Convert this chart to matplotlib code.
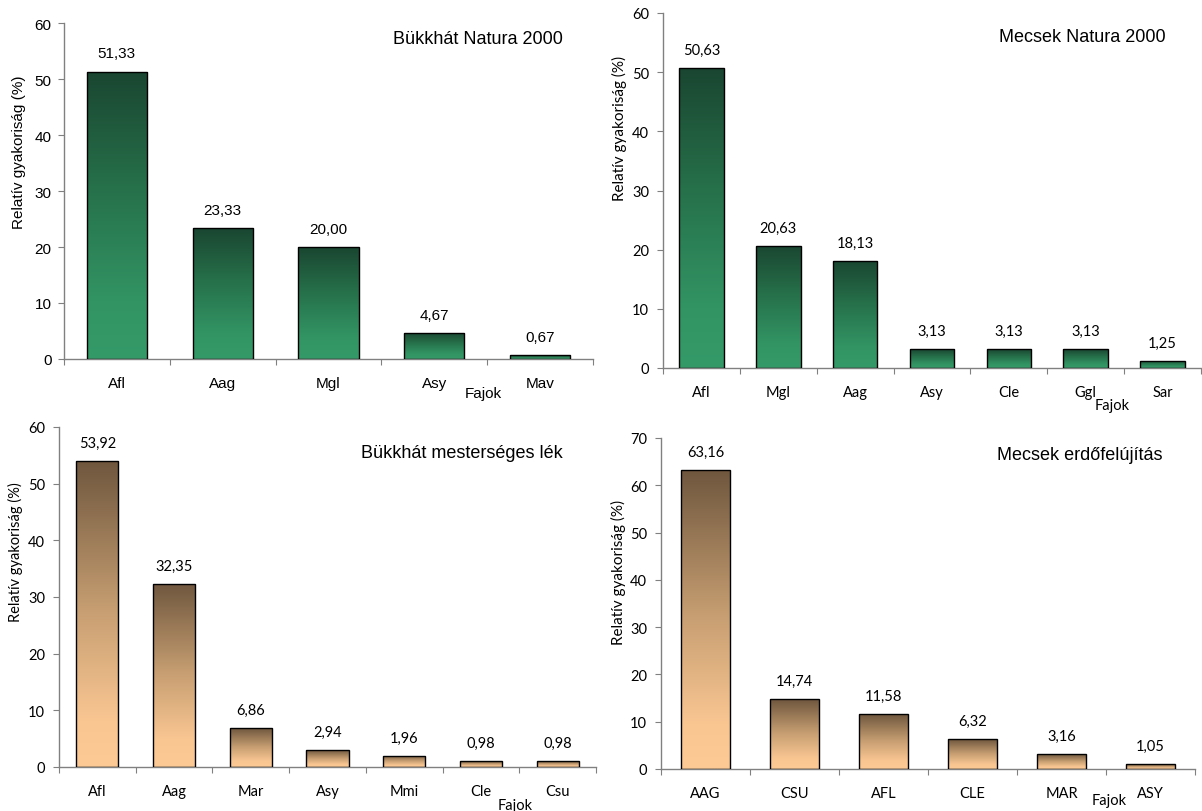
import numpy as np
import matplotlib
matplotlib.use("Agg")
import matplotlib.pyplot as plt
from matplotlib.colors import LinearSegmentedColormap

# Species codes and relative frequencies (%) for each site
bn_species = ["Afl", "Aag", "Mgl", "Asy", "Mav"]
bn_values = [51.33, 23.33, 20.00, 4.67, 0.67]

mn_species = ["Afl", "Mgl", "Aag", "Asy", "Cle", "Ggl", "Sar"]
mn_values = [50.63, 20.63, 18.13, 3.13, 3.13, 3.13, 1.25]

bl_species = ["Afl", "Aag", "Mar", "Asy", "Mmi", "Cle", "Csu"]
bl_values = [53.92, 32.35, 6.86, 2.94, 1.96, 0.98, 0.98]

me_species = ["AAG", "CSU", "AFL", "CLE", "MAR", "ASY"]
me_values = [63.16, 14.74, 11.58, 6.32, 3.16, 1.05]

W, H = 1202, 812
fig = plt.figure(figsize=(W / 100, H / 100), dpi=100)
fig.patch.set_facecolor("white")

green = LinearSegmentedColormap.from_list(
    "green", [(0.0, "#349a68"), (0.2, "#329463"), (0.6, "#26704a"), (1.0, "#1a4631")])
brown = LinearSegmentedColormap.from_list(
    "brown", [(0.0, "#fdca96"), (0.15, "#f9c692"), (0.5, "#c9a073"), (1.0, "#6f573e")])

ARIAL = "Liberation Sans"
CALIBRI = "Lato"


def axes_px(left, top, right, bottom):
    return fig.add_axes([left / W, 1 - bottom / H, (right - left) / W, (bottom - top) / H])


def panel(box, cats, vals, ymax, cmap, title, title_xy, ylab_xy, fajok_xy,
          font, tick_fs, val_fs, cat_fs, ylab_fs, title_fs, bar_w, cat_pad, ytick_pad):
    ax = axes_px(*box)
    n = len(cats)
    x = np.arange(n) + 0.5
    grad = np.linspace(0, 1, 256).reshape(-1, 1)
    bars = ax.bar(x, vals, width=bar_w, facecolor="none", edgecolor="black",
                  linewidth=1.0, zorder=3)
    for b, v in zip(bars, vals):
        x0 = b.get_x()
        im = ax.imshow(grad, cmap=cmap, origin="lower", aspect="auto",
                       extent=(x0, x0 + b.get_width(), 0, v), zorder=2)
        im.set_clip_path(b)
        ax.annotate(f"{v:.2f}".replace(".", ","), (b.get_x() + b.get_width() / 2, v),
                    xytext=(0, 8), textcoords="offset points", ha="center", va="bottom",
                    fontsize=val_fs, family=font)
    ax.set_xlim(0, n)
    ax.set_ylim(0, ymax)
    ax.set_yticks(np.arange(0, ymax + 1, 10))
    ax.set_xticks(np.arange(0, n + 1))
    ax.set_xticklabels([])
    ax.set_xticks(x, minor=True)
    ax.set_xticklabels(cats, minor=True, fontsize=cat_fs, family=font)
    ax.tick_params(axis="x", which="major", direction="out", length=4, color="#808080")
    ax.tick_params(axis="x", which="minor", length=0, pad=cat_pad)
    ax.tick_params(axis="y", direction="out", length=4, color="#808080", pad=ytick_pad,
                   labelsize=tick_fs)
    for lbl in ax.get_yticklabels():
        lbl.set_family(font)
    for s in ("top", "right"):
        ax.spines[s].set_visible(False)
    for s in ("left", "bottom"):
        ax.spines[s].set_color("#808080")
        ax.spines[s].set_linewidth(1.0)
    fig.text(title_xy[0] / W, 1 - title_xy[1] / H, title, ha="center", va="center",
             fontsize=title_fs, family=ARIAL)
    fig.text(ylab_xy[0] / W, 1 - ylab_xy[1] / H, "Relatív gyakoriság (%)", rotation=90,
             ha="center", va="center", fontsize=ylab_fs, family=font)
    fig.text(fajok_xy[0] / W, 1 - fajok_xy[1] / H, "Fajok", ha="center", va="center",
             fontsize=cat_fs, family=font)
    return ax


panel((64, 24, 593, 360), bn_species, bn_values, 60, green, "Bükkhát Natura 2000",
      (478, 40), (19, 152), (483, 394), ARIAL, 11, 11, 11, 11, 13, 0.57, 12, 5)
panel((663, 14, 1201, 369), mn_species, mn_values, 60, green, "Mecsek Natura 2000",
      (1082, 37), (619, 128), (1112, 406), CALIBRI, 10.5, 10.5, 10.5, 11, 13, 0.58, 12, 6)
panel((59, 428, 596, 768), bl_species, bl_values, 60, brown, "Bükkhát mesterséges lék",
      (462, 454), (15, 552), (515, 806), CALIBRI, 10.5, 10.5, 10.5, 10.5, 13, 0.55, 12, 6)
panel((661, 439, 1195, 770), me_species, me_values, 70, brown, "Mecsek erdőfelújítás",
      (1080, 456), (618, 572), (1109, 801), CALIBRI, 10.5, 10.5, 10.5, 11, 13, 0.55, 12, 6)

fig.savefig("out.png", dpi=100, facecolor="white")
